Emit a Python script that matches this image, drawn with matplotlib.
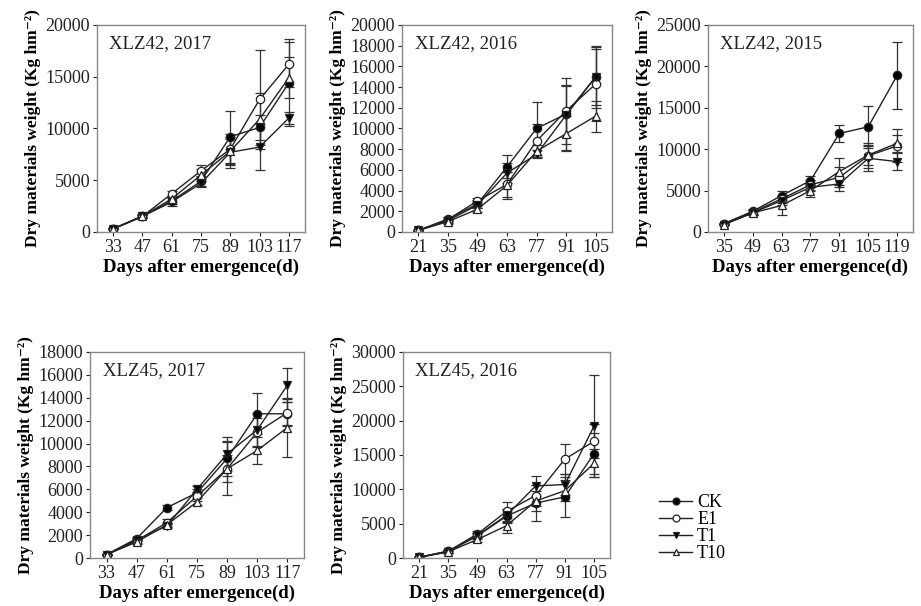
import matplotlib
matplotlib.use('Agg')
import matplotlib.pyplot as plt
from matplotlib.lines import Line2D

plt.rcParams['font.family'] = ['Liberation Serif', 'DejaVu Serif']

treatments = ['CK', 'E1', 'T1', 'T10']

# XLZ42, 2017
days_42_17 = [33, 47, 61, 75, 89, 103, 117]
ck_42_17 = [300, 1550, 3000, 4900, 9200, 10100, 14400]
e1_42_17 = [300, 1500, 3700, 5900, 8000, 12800, 16200]
t1_42_17 = [300, 1500, 2900, 4700, 7700, 8200, 11000]
t10_42_17 = [300, 1500, 3200, 5500, 7800, 10900, 14900]
ck_42_17_err = [50, 150, 300, 500, 2500, 1200, 4200]
e1_42_17_err = [50, 150, 300, 600, 1500, 4800, 2200]
t1_42_17_err = [50, 150, 400, 400, 1500, 2200, 600]
t10_42_17_err = [50, 150, 300, 600, 1200, 2500, 2000]

# XLZ42, 2016
days_42_16 = [21, 35, 49, 63, 77, 91, 105]
ck_42_16 = [150, 1250, 2700, 6300, 10000, 11400, 15000]
e1_42_16 = [150, 1200, 3000, 4600, 8800, 11700, 14300]
t1_42_16 = [150, 1100, 2600, 5700, 7500, 11300, 15000]
t10_42_16 = [150, 1000, 2200, 4500, 7800, 9500, 11200]
ck_42_16_err = [50, 200, 400, 1100, 2600, 3500, 3000]
e1_42_16_err = [50, 200, 300, 1200, 1600, 2500, 3600]
t1_42_16_err = [50, 200, 300, 1000, 400, 2800, 2700]
t10_42_16_err = [50, 200, 300, 1300, 600, 1700, 1500]

# XLZ42, 2015
days_42_15 = [35, 49, 63, 77, 91, 105, 119]
ck_42_15 = [1000, 2500, 4400, 6200, 11900, 12700, 18900]
e1_42_15 = [1000, 2400, 4000, 5700, 6600, 9200, 10400]
t1_42_15 = [900, 2300, 3800, 5400, 5800, 8900, 8500]
t10_42_15 = [900, 2300, 3200, 5000, 7300, 9300, 10700]
ck_42_15_err = [100, 300, 500, 500, 1000, 2500, 4000]
e1_42_15_err = [100, 300, 500, 600, 1200, 1500, 2000]
t1_42_15_err = [100, 300, 500, 500, 800, 1500, 1000]
t10_42_15_err = [100, 300, 1100, 800, 1600, 1200, 1000]

# XLZ45, 2017
days_45_17 = [33, 47, 61, 75, 89, 103, 117]
ck_45_17 = [300, 1700, 4400, 5700, 8700, 12600, 12600]
e1_45_17 = [300, 1500, 3100, 5400, 7800, 11000, 12700]
t1_45_17 = [300, 1600, 2800, 6000, 9100, 11200, 15100]
t10_45_17 = [300, 1400, 2900, 4900, 7800, 9400, 11400]
ck_45_17_err = [50, 150, 200, 300, 1500, 1800, 1000]
e1_45_17_err = [50, 150, 300, 400, 2300, 1200, 1200]
t1_45_17_err = [50, 150, 200, 300, 1500, 1500, 1500]
t10_45_17_err = [50, 150, 200, 300, 1200, 1200, 2600]

# XLZ45, 2016
days_45_16 = [21, 35, 49, 63, 77, 91, 105]
ck_45_16 = [100, 1000, 3200, 6100, 8000, 8900, 15200]
e1_45_16 = [100, 1000, 3500, 6800, 9100, 14400, 17000]
t1_45_16 = [100, 900, 3300, 6200, 10500, 10700, 19200]
t10_45_16 = [100, 900, 2700, 4700, 8300, 9800, 13800]
ck_45_16_err = [50, 200, 400, 1000, 2600, 2900, 3000]
e1_45_16_err = [50, 200, 400, 1400, 1500, 2200, 2500]
t1_45_16_err = [50, 200, 400, 1000, 1400, 1500, 7400]
t10_45_16_err = [50, 200, 300, 1100, 1500, 1500, 2000]

panels = [
    ('XLZ42, 2017', days_42_17, [ck_42_17, e1_42_17, t1_42_17, t10_42_17],
     [ck_42_17_err, e1_42_17_err, t1_42_17_err, t10_42_17_err], 20000, 5000,
     [0.1053, 0.6172, 0.2258, 0.3416]),
    ('XLZ42, 2016', days_42_16, [ck_42_16, e1_42_16, t1_42_16, t10_42_16],
     [ck_42_16_err, e1_42_16_err, t1_42_16_err, t10_42_16_err], 20000, 2000,
     [0.4365, 0.6172, 0.228, 0.3416]),
    ('XLZ42, 2015', days_42_15, [ck_42_15, e1_42_15, t1_42_15, t10_42_15],
     [ck_42_15_err, e1_42_15_err, t1_42_15_err, t10_42_15_err], 25000, 5000,
     [0.7687, 0.6172, 0.2226, 0.3416]),
    ('XLZ45, 2017', days_45_17, [ck_45_17, e1_45_17, t1_45_17, t10_45_17],
     [ck_45_17_err, e1_45_17_err, t1_45_17_err, t10_45_17_err], 18000, 2000,
     [0.0977, 0.0792, 0.2324, 0.34]),
    ('XLZ45, 2016', days_45_16, [ck_45_16, e1_45_16, t1_45_16, t10_45_16],
     [ck_45_16_err, e1_45_16_err, t1_45_16_err, t10_45_16_err], 30000, 5000,
     [0.4376, 0.0792, 0.2248, 0.34]),
]

styles = {
    'CK': dict(marker='o', mfc='black'),
    'E1': dict(marker='o', mfc='white'),
    'T1': dict(marker='v', mfc='black'),
    'T10': dict(marker='^', mfc='white'),
}

fig = plt.figure(figsize=(9.21, 6.06), dpi=100)
for title, days, series, errs, ymax, ystep, rect in panels:
    ax = fig.add_axes(rect)
    for name, vals, err in zip(treatments, series, errs):
        ax.errorbar(days, vals, yerr=err, color='#222222', lw=1.0,
                    ms=6, mec='#222222', mew=0.9, capsize=3.5,
                    elinewidth=0.9, ecolor='#333333', label=name,
                    **styles[name])
    pad = 0.55 * (days[1] - days[0])
    ax.set_xlim(days[0] - pad, days[-1] + pad)
    ax.set_ylim(0, ymax)
    ax.set_xticks(days)
    ax.set_yticks(range(0, ymax + 1, ystep))
    ax.tick_params(labelsize=13, colors='#222222', length=3, width=0.8, pad=2)
    for s in ax.spines.values():
        s.set_color('#888888')
        s.set_linewidth(1.0)
    ax.text(0.06, 0.95, title, transform=ax.transAxes, fontsize=13.5,
            va='top', ha='left', color='#222222')
    ax.set_xlabel('Days after emergence(d)', fontsize=13.5, fontweight='bold',
                  labelpad=2)
    ax.set_ylabel('Dry materials weight (Kg hm\u207b\u00b2)', fontsize=12.5,
                  fontweight='bold', labelpad=3)

handles = [Line2D([], [], color='#222222', lw=1.0, ms=5, mec='#222222',
                  mew=0.9, **styles[n]) for n in treatments]
fig.legend(handles=handles, labels=treatments, loc='center left',
           bbox_to_anchor=(0.706, 0.128), frameon=False, fontsize=13,
           handlelength=1.8, handletextpad=0.3, labelspacing=0.0,
           borderpad=0)

fig.savefig('out.png', dpi=100)
